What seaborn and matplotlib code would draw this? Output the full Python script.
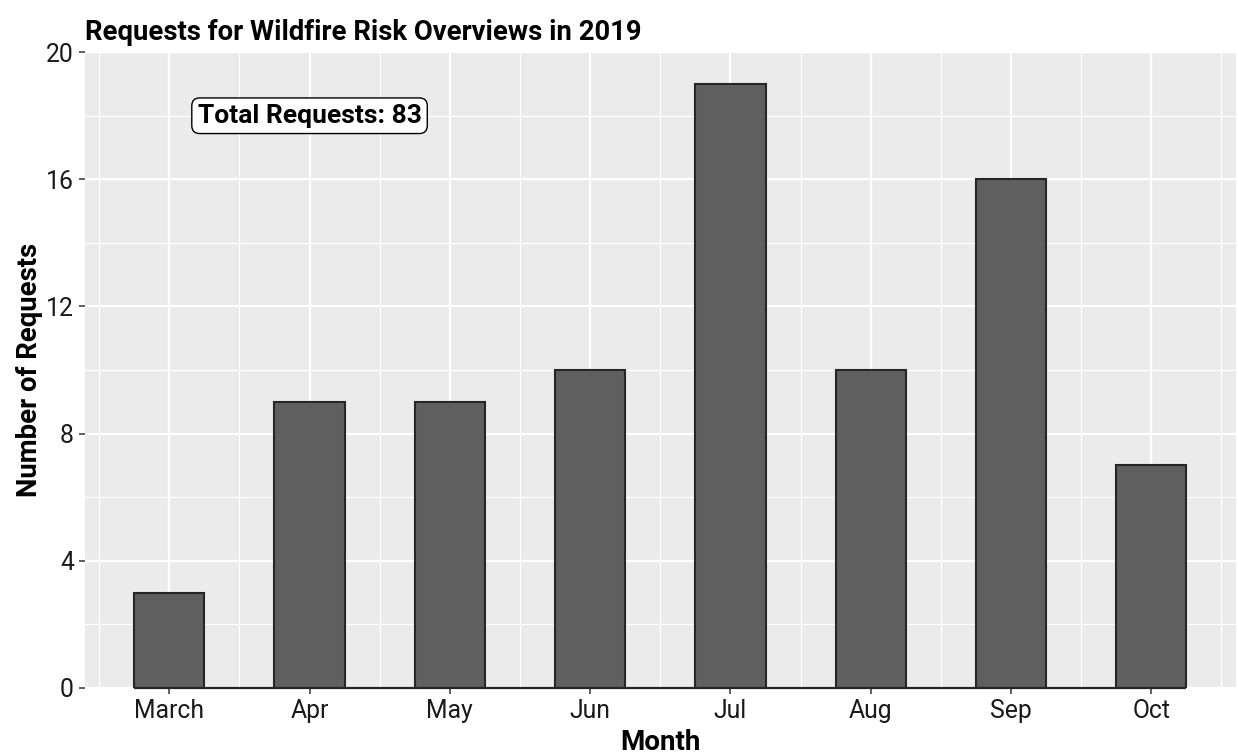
import pandas as pd
import seaborn as sns
import matplotlib.pyplot as plt
from matplotlib.ticker import MultipleLocator, FixedLocator

# Requests per month (2019)
months = ["March", "Apr", "May", "Jun", "Jul", "Aug", "Sep", "Oct"]
requests = [3, 9, 9, 10, 19, 10, 16, 7]
y_ticks = [0, 4, 8, 12, 16, 20]

df = pd.DataFrame({"Month": months, "Requests": requests})
total = sum(requests)

sns.set_theme(style="darkgrid", rc={
    "axes.facecolor": "#EBEBEB",
    "grid.color": "white",
    "text.color": "black",
    "axes.labelcolor": "black",
})
plt.rcParams["font.family"] = ["Roboto", "DejaVu Sans"]

fig = plt.figure(figsize=(12.38, 7.56), dpi=100)
ax = fig.add_axes([0.0687, 0.090, 0.9293, 0.841])

bar_width = 0.5
sns.barplot(data=df, x="Month", y="Requests", color="#5f5f5f",
            edgecolor="#262626", linewidth=1.5, width=bar_width,
            saturation=1, ax=ax, zorder=3)

# dark baseline under the bars
ax.hlines(0, -bar_width / 2, len(months) - 1 + bar_width / 2,
          color="#262626", linewidth=1.6, zorder=4, clip_on=False)

ax.set_xlim(-0.6, len(months) - 1 + 0.6)
ax.set_ylim(0, 20)
ax.set_yticks(y_ticks)
ax.yaxis.set_minor_locator(MultipleLocator(2))
ax.xaxis.set_minor_locator(FixedLocator([i + 0.5 for i in range(-1, len(months))]))

ax.grid(which="major", color="white", linewidth=1.6)
ax.grid(which="minor", color="white", linewidth=0.8)
ax.set_axisbelow(True)
for s in ax.spines.values():
    s.set_visible(False)

ax.tick_params(which="major", length=4, width=1.1, color="#333333",
               labelsize=17.8, labelcolor="#1a1a1a", pad=4, bottom=True, left=True)
ax.tick_params(which="minor", length=0)

ax.set_xlabel("Month", fontsize=20, fontweight="bold", labelpad=4)
ax.set_ylabel("Number of Requests", fontsize=19.8, fontweight="bold", labelpad=2)
ax.set_title("Requests for Wildfire Risk Overviews in 2019", loc="left",
             fontsize=19.8, fontweight="bold", pad=9)

ax.text(1, 18, f"Total Requests: {total}", ha="center", va="center",
        fontsize=19, fontweight="bold", zorder=5,
        bbox=dict(boxstyle="round,pad=0.22,rounding_size=0.3",
                  facecolor="white", edgecolor="black", linewidth=1.0))

fig.savefig("out.png", dpi=100)
